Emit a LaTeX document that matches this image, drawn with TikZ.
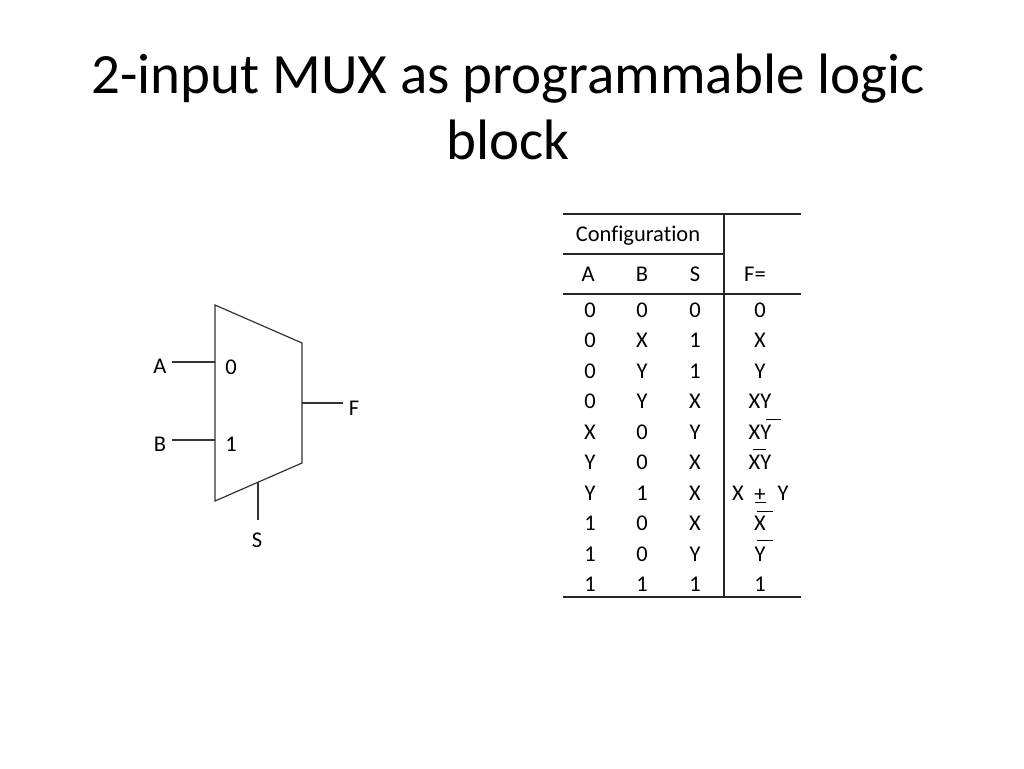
\documentclass[tikz,border=0pt]{standalone}
\usepackage{fontspec}
\setmainfont[Ligatures=NoCommon]{Carlito}
\usetikzlibrary{positioning}

\begin{document}
\begin{tikzpicture}[x=1pt,y=-1pt,
    lbl/.style={font=\fontsize{22.5}{26}\selectfont, inner sep=0pt},
    wire/.style={line width=1.2pt, draw=black!80},
    rule/.style={line width=1.2pt, draw=black!85},
    bar/.style={line width=0.9pt}]
  \useasboundingbox[fill=white] (0,0) rectangle (1024,768);

  % title
  \node[font=\fontsize{57}{68}\selectfont, anchor=base, inner sep=0pt] (title1) at (508,93) {2-input MUX as programmable logic};
  \node[font=\fontsize{57}{68}\selectfont, anchor=base, inner sep=0pt] (title2) at (508,159) {block};

  % the mux
  \coordinate (tl) at (215,305);
  \coordinate (tr) at (302,343);
  \coordinate (br) at (302,463);
  \coordinate (bl) at (215,501);
  \draw[wire] (tl) -- (tr) -- (br) -- (bl) -- cycle;

  \coordinate (in0) at (215,362);
  \coordinate (in1) at (215,440);
  \coordinate (out) at (302,403);
  \coordinate (sel) at (258,482);
  \coordinate (ina) at (172,362);
  \coordinate (inb) at (172,440);
  \coordinate (outf) at (343,403);
  \coordinate (sels) at (258,520);

  \node[lbl] (A) at (160,366) {A};
  \node[lbl] (B) at (160,444) {B};
  \node[lbl] (zero) at (231,367) {0};
  \node[lbl] (one) at (231,444) {1};
  \node[lbl] (F) at (354,408) {F};
  \node[lbl] (S) at (257,540) {S};

  \draw[wire] (ina) -- (in0);
  \draw[wire] (inb) -- (in1);
  \draw[wire] (out) -- (outf);
  \draw[wire] (sel) -- (sels);

  % the table
  \draw[rule] (563,214) -- (801,214);
  \draw[rule] (563,254) -- (724,254);
  \draw[rule] (563,294) -- (801,294);
  \draw[rule] (563,597) -- (801,597);
  \draw[rule] (724,214) -- (724,597);

  \node[lbl] (config) at (638,236) {Configuration};
  \node[lbl] (hA) at (588,274) {A};
  \node[lbl] (hB) at (642,274) {B};
  \node[lbl] (hS) at (695,274) {S};
  \node[lbl] (hF) at (755,274) {F=};

  \foreach \a/\b/\s/\f [count=\i] in {0/0/0/0, 0/X/1/X, 0/Y/1/Y, 0/Y/X/XY, X/0/Y/XY,
      Y/0/X/XY, Y/1/X/{}, 1/0/X/X, 1/0/Y/Y, 1/1/1/1} {
    \node[lbl] (a\i) at (590,{310+30.5*(\i-1)}) {\a};
    \node[lbl] (b\i) at (642,{310+30.5*(\i-1)}) {\b};
    \node[lbl] (s\i) at (695,{310+30.5*(\i-1)}) {\s};
    \node[lbl] (f\i) at (760,{310+30.5*(\i-1)}) {\f};
  }

  % X + Y row, and the bars
  \node[lbl] (fx) at (738,493) {X};
  \node[lbl] (fplus) at (760,495) {+};
  \node[lbl] (fy) at (783,493) {Y};
  \draw[bar] (755,502) -- (766,502);
  \draw[bar] (766,419) -- (781,419);
  \draw[bar] (753,449) -- (766,449);
  \draw[bar] (757,511) -- (773,511);
  \draw[bar] (757,540) -- (773,540);
\end{tikzpicture}
\end{document}
